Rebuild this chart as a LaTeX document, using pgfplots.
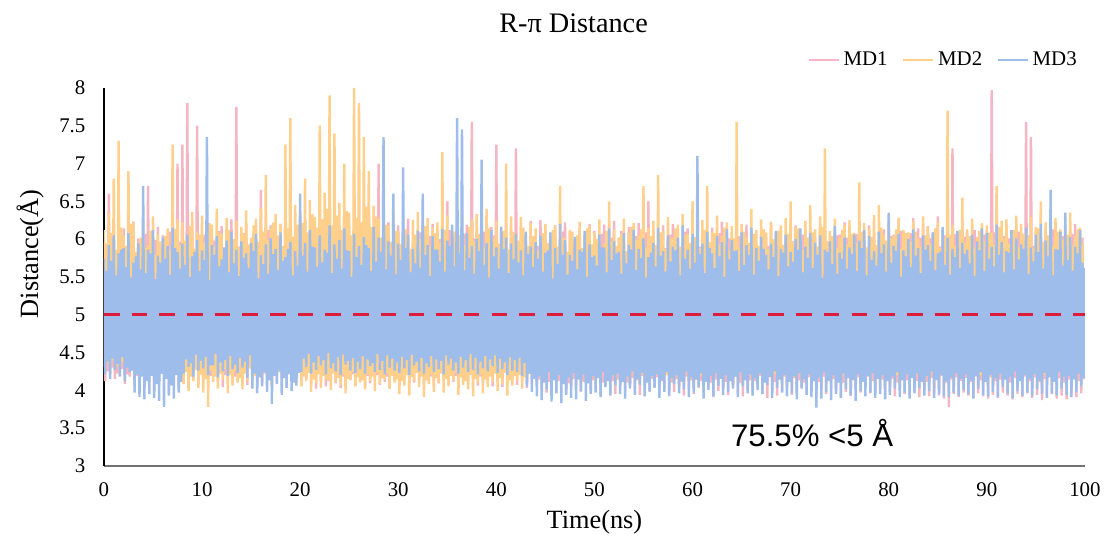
\documentclass[border=0pt]{standalone}
\usepackage{pgfplots}
\pgfplotsset{compat=1.18}
\usepackage{fontspec}
\setmainfont{Liberation Serif}
\newfontfamily\arialf{Liberation Sans}
\definecolor{mdone}{RGB}{245,182,196}
\definecolor{mdtwo}{RGB}{255,208,140}
\definecolor{mdthree}{RGB}{158,189,235}
\definecolor{refred}{RGB}{220,30,60}
\begin{document}
\begin{tikzpicture}
\begin{axis}[
  name=ax,
  scale only axis,
  width=503.1pt, height=193.8pt,
  xmin=0, xmax=100, ymin=3, ymax=8,
  axis x line*=bottom, axis y line*=left,
  x axis line style={-, draw=black!55, line width=0.8pt},
  y axis line style={-, draw=black, line width=0.8pt},
  major tick length=0pt,
  xtick={0,10,...,100},
  ytick={3,3.5,4,4.5,5,5.5,6,6.5,7,7.5,8},
  /pgf/number format/assume math mode=true,
  ticklabel style={font=\fontsize{10.7}{12}\selectfont},
  yticklabel style={xshift=-6pt},
  xticklabel style={yshift=-5pt},
  legend style={draw=none, fill=none, at={(1.002,1.074)}, anchor=east,
    font=\fontsize{10.7}{12}\selectfont, legend columns=3,
    /tikz/every even column/.append style={column sep=5.5pt}},
  legend image code/.code={\draw[#1, line width=1pt] (0pt,0pt) -- (15.4pt,0pt);},
  legend cell align=left,
  clip=true,
]
\addplot[mdone, line width=1.25pt, line join=bevel] table[row sep=\\, header=false, x expr=\coordindex*0.125, y index=0] {
5.95\\4.12\\5.82\\4.25\\6.60\\4.21\\5.97\\4.30\\6.08\\4.15\\5.76\\4.22\\5.87\\4.24\\6.04\\4.28\\
6.14\\4.08\\5.85\\4.21\\5.92\\4.18\\6.01\\4.27\\6.23\\4.05\\5.73\\4.19\\6.01\\4.13\\5.94\\4.24\\
5.88\\4.02\\6.07\\4.18\\6.70\\4.11\\5.80\\4.26\\5.97\\3.98\\5.99\\4.15\\6.16\\4.07\\5.78\\4.22\\
6.05\\4.15\\5.91\\4.27\\5.83\\3.96\\6.10\\4.17\\6.19\\4.09\\5.75\\4.23\\7.00\\4.04\\5.96\\4.20\\
7.25\\4.10\\5.88\\4.26\\7.80\\4.03\\6.03\\4.18\\6.12\\4.16\\5.79\\4.29\\7.50\\4.08\\5.93\\4.21\\
5.91\\4.13\\6.06\\4.24\\6.22\\4.06\\5.77\\4.19\\6.04\\4.19\\5.98\\4.28\\5.86\\4.10\\6.11\\4.22\\
6.17\\4.04\\5.84\\4.20\\5.95\\4.14\\6.02\\4.26\\6.26\\4.08\\5.74\\4.18\\7.75\\4.12\\5.90\\4.25\\
6.03\\4.18\\6.08\\4.23\\6.21\\4.07\\5.81\\4.29\\5.89\\4.15\\5.99\\4.21\\6.10\\4.02\\5.86\\4.17\\
6.65\\4.09\\5.95\\4.22\\6.00\\4.16\\6.12\\4.27\\6.18\\4.05\\5.78\\4.19\\5.93\\4.11\\6.01\\4.24\\
6.20\\4.14\\5.87\\4.20\\5.87\\4.03\\6.05\\4.28\\6.11\\4.12\\5.82\\4.17\\6.02\\4.17\\5.97\\4.25\\
6.09\\4.06\\6.00\\4.21\\6.24\\4.13\\5.86\\4.26\\5.98\\4.08\\6.09\\4.18\\6.15\\4.02\\5.80\\4.23\\
6.26\\4.11\\5.93\\4.24\\6.04\\4.05\\6.07\\4.19\\6.19\\4.15\\5.84\\4.27\\5.96\\4.09\\6.03\\4.22\\
6.12\\4.03\\5.89\\4.18\\6.28\\4.10\\6.10\\4.25\\6.07\\4.14\\5.77\\4.21\\6.21\\4.06\\5.95\\4.28\\
5.99\\4.12\\6.04\\4.23\\6.16\\4.04\\5.83\\4.19\\6.30\\4.09\\6.08\\4.26\\6.05\\4.15\\5.91\\4.20\\
7.00\\4.07\\5.97\\4.24\\6.13\\4.11\\6.11\\4.18\\6.22\\4.02\\5.85\\4.27\\6.08\\4.13\\6.02\\4.21\\
6.18\\4.05\\5.90\\4.22\\6.02\\4.14\\6.06\\4.28\\6.27\\4.08\\5.79\\4.19\\5.94\\4.10\\5.98\\4.25\\
6.11\\4.13\\6.09\\4.20\\6.25\\4.06\\5.87\\4.26\\6.03\\4.12\\6.04\\4.18\\6.20\\4.04\\5.81\\4.23\\
5.97\\4.09\\6.00\\4.27\\6.14\\4.15\\5.92\\4.21\\6.50\\4.07\\6.12\\4.24\\6.09\\4.11\\5.88\\4.19\\
6.23\\4.02\\5.96\\4.25\\6.06\\4.12\\6.07\\4.20\\6.19\\4.08\\5.84\\4.28\\7.55\\4.14\\6.01\\4.22\\
6.10\\4.06\\5.93\\4.18\\6.28\\4.10\\6.10\\4.26\\6.01\\4.13\\5.80\\4.21\\6.16\\4.05\\6.05\\4.24\\
7.25\\4.11\\5.89\\4.20\\6.08\\4.04\\6.02\\4.27\\6.21\\4.09\\5.86\\4.19\\6.13\\4.15\\6.09\\4.23\\
7.20\\4.07\\5.95\\4.25\\6.17\\4.12\\6.06\\4.18\\5.99\\4.03\\5.82\\4.22\\6.24\\4.08\\6.00\\4.16\\
6.05\\4.10\\5.91\\4.14\\6.25\\4.01\\6.08\\4.19\\6.12\\3.97\\5.78\\4.11\\5.94\\4.06\\6.03\\4.17\\
6.18\\3.99\\5.87\\4.12\\6.03\\4.08\\6.10\\4.20\\6.22\\3.95\\5.83\\4.09\\6.09\\4.04\\5.99\\4.15\\
5.92\\4.07\\6.05\\4.18\\6.15\\3.98\\5.80\\4.11\\6.06\\4.11\\6.01\\4.16\\6.20\\3.96\\5.89\\4.13\\
6.11\\4.02\\5.94\\4.19\\5.96\\3.93\\6.07\\4.10\\6.19\\4.05\\5.85\\4.17\\6.07\\3.97\\6.02\\4.12\\
6.24\\3.95\\5.90\\4.14\\6.02\\4.06\\6.11\\4.18\\5.91\\3.99\\5.77\\4.10\\6.16\\4.03\\5.97\\4.16\\
6.08\\4.01\\6.04\\4.13\\6.21\\3.94\\5.86\\4.19\\6.00\\4.07\\6.09\\4.11\\6.50\\3.98\\5.92\\4.15\\
6.13\\4.04\\5.81\\4.17\\5.95\\3.96\\6.03\\4.12\\6.18\\4.02\\5.88\\4.20\\6.05\\3.92\\6.06\\4.10\\
6.20\\3.98\\5.93\\4.15\\6.09\\4.05\\5.79\\4.11\\5.97\\3.93\\6.10\\4.18\\6.14\\4.01\\5.84\\4.13\\
6.02\\3.95\\6.00\\4.16\\6.17\\4.03\\5.90\\4.12\\6.08\\3.97\\6.05\\4.19\\5.93\\4.04\\5.82\\4.10\\
6.15\\3.91\\5.96\\4.14\\6.01\\3.99\\6.08\\4.17\\6.23\\4.02\\5.87\\4.11\\6.06\\3.94\\6.01\\4.15\\
5.98\\4.03\\5.89\\4.18\\6.12\\3.96\\6.04\\4.10\\6.04\\3.92\\5.80\\4.16\\6.19\\4.00\\5.95\\4.13\\
6.10\\3.97\\6.07\\4.12\\5.94\\4.04\\5.85\\4.19\\6.15\\3.95\\6.02\\4.14\\6.02\\3.90\\5.91\\4.17\\
6.21\\4.01\\5.83\\4.11\\6.07\\3.93\\6.09\\4.15\\6.13\\3.99\\5.88\\4.18\\5.96\\4.05\\6.00\\4.12\\
6.04\\3.94\\5.97\\4.16\\6.18\\3.98\\5.84\\4.13\\6.00\\4.03\\6.06\\4.10\\6.11\\3.96\\5.90\\4.17\\
6.16\\3.99\\6.03\\4.14\\6.03\\3.92\\5.86\\4.11\\6.20\\4.00\\6.08\\4.18\\6.08\\3.95\\5.81\\4.12\\
5.95\\4.02\\5.99\\4.15\\6.14\\3.96\\6.05\\4.19\\6.06\\3.91\\5.89\\4.10\\6.22\\3.98\\6.02\\4.16\\
6.09\\3.93\\5.82\\4.13\\6.01\\4.01\\6.07\\4.17\\6.17\\3.97\\5.94\\4.11\\6.04\\4.03\\5.87\\4.18\\
6.18\\3.96\\6.00\\4.12\\6.10\\3.94\\5.85\\4.16\\5.98\\4.02\\6.09\\4.14\\6.13\\3.90\\5.92\\4.19\\
6.22\\3.98\\6.04\\4.15\\6.06\\3.92\\5.88\\4.10\\6.25\\3.99\\6.11\\4.17\\6.11\\3.95\\5.96\\4.13\\
6.05\\3.94\\6.08\\4.18\\6.28\\3.97\\5.93\\4.12\\6.14\\3.91\\6.02\\4.15\\6.20\\4.00\\5.86\\4.11\\
6.17\\3.92\\6.01\\4.16\\6.09\\3.96\\6.10\\4.13\\6.30\\3.93\\5.90\\4.19\\6.12\\3.89\\6.05\\4.10\\
6.24\\3.78\\5.95\\4.14\\7.20\\3.95\\6.07\\4.17\\6.10\\3.91\\5.84\\4.12\\6.26\\3.97\\6.03\\4.16\\
6.08\\3.93\\5.98\\4.11\\6.19\\3.90\\6.12\\4.18\\6.03\\3.96\\5.87\\4.13\\6.15\\3.92\\6.06\\4.15\\
6.12\\3.89\\5.92\\4.17\\7.97\\3.94\\6.09\\4.12\\6.60\\3.90\\5.89\\4.14\\6.07\\3.97\\6.04\\4.19\\
6.20\\3.93\\6.01\\4.10\\6.04\\3.88\\5.86\\4.16\\6.16\\3.95\\6.10\\4.13\\6.09\\3.91\\5.94\\4.18\\
7.55\\3.96\\6.05\\4.12\\7.35\\3.90\\5.91\\4.17\\6.11\\3.94\\6.08\\4.11\\6.02\\3.87\\5.85\\4.15\\
6.14\\3.92\\6.00\\4.19\\6.06\\3.95\\6.13\\4.13\\6.18\\3.89\\5.88\\4.16\\6.10\\3.93\\6.04\\4.10\\
6.05\\3.88\\5.93\\4.14\\6.13\\3.94\\6.07\\4.18\\6.20\\3.91\\5.90\\4.12\\6.08\\3.96\\6.02\\4.15\\
4.20\\
};
\addlegendentry{MD1}
\addplot[mdtwo, line width=1.25pt, line join=bevel] table[row sep=\\, header=false, x expr=\coordindex*0.125, y index=0] {
6.12\\4.31\\5.94\\4.36\\6.35\\4.22\\6.08\\4.40\\6.80\\4.28\\5.86\\4.33\\7.30\\4.19\\6.15\\4.38\\
6.05\\4.26\\5.91\\4.42\\6.90\\4.33\\6.20\\4.29\\6.21\\4.17\\5.83\\4.37\\5.96\\4.24\\6.02\\4.31\\
6.18\\4.15\\5.88\\4.34\\5.92\\4.27\\6.11\\4.39\\6.30\\4.12\\5.79\\4.28\\6.07\\4.21\\5.97\\4.36\\
5.89\\4.29\\6.04\\4.41\\6.14\\4.18\\5.85\\4.32\\7.25\\4.23\\6.13\\4.37\\6.26\\4.14\\5.92\\4.30\\
6.22\\4.08\\5.98\\4.24\\5.98\\3.99\\6.17\\4.19\\6.36\\4.12\\5.87\\4.27\\6.10\\4.03\\6.06\\4.21\\
6.31\\3.97\\5.95\\4.15\\6.04\\3.78\\6.21\\4.26\\6.19\\4.11\\5.90\\4.18\\6.40\\4.02\\6.09\\4.23\\
6.07\\4.14\\5.84\\4.28\\6.28\\3.96\\6.12\\4.20\\5.95\\4.06\\6.00\\4.25\\6.24\\4.10\\5.89\\4.16\\
6.16\\4.01\\6.07\\4.22\\6.38\\4.13\\5.93\\4.29\\6.02\\4.08\\6.18\\4.19\\6.27\\4.19\\5.96\\4.26\\
6.41\\4.12\\6.10\\4.27\\6.85\\4.22\\5.99\\4.18\\6.15\\4.07\\6.22\\4.30\\6.33\\4.18\\6.05\\4.24\\
6.20\\4.24\\5.91\\4.21\\7.25\\4.10\\6.14\\4.28\\7.60\\4.16\\6.03\\4.20\\6.45\\4.09\\6.19\\4.25\\
6.38\\4.05\\6.21\\4.18\\6.80\\4.12\\6.09\\4.23\\6.52\\3.98\\6.33\\4.14\\6.29\\4.09\\6.15\\4.21\\
7.50\\4.03\\6.26\\4.19\\6.61\\4.14\\6.40\\4.12\\7.90\\4.00\\6.18\\4.22\\7.40\\4.11\\6.31\\4.16\\
6.48\\4.07\\6.12\\4.20\\7.00\\3.96\\6.37\\4.15\\6.35\\4.13\\6.05\\4.24\\8.00\\4.05\\6.28\\4.17\\
7.80\\4.10\\6.22\\4.13\\7.35\\4.01\\6.43\\4.21\\6.90\\4.12\\6.16\\4.18\\6.44\\3.99\\6.30\\4.23\\
6.27\\4.08\\6.02\\4.16\\6.56\\4.14\\6.19\\4.22\\6.18\\4.02\\5.96\\4.19\\6.39\\4.10\\6.11\\4.14\\
6.11\\3.95\\5.93\\4.12\\6.32\\4.06\\6.13\\4.20\\6.04\\3.93\\5.87\\4.17\\6.25\\4.12\\6.06\\4.23\\
6.36\\4.04\\6.00\\4.18\\6.09\\3.91\\6.17\\4.13\\6.28\\4.08\\5.90\\4.21\\6.15\\3.98\\6.08\\4.16\\
6.22\\4.10\\5.95\\4.22\\7.15\\3.97\\6.12\\4.15\\6.31\\4.05\\5.88\\4.19\\6.02\\4.13\\6.10\\4.24\\
6.19\\3.94\\6.05\\4.17\\6.37\\4.07\\5.92\\4.12\\6.08\\4.01\\6.16\\4.20\\6.26\\3.92\\5.97\\4.15\\
6.33\\4.09\\6.07\\4.21\\6.12\\3.96\\5.89\\4.14\\6.40\\4.04\\6.14\\4.18\\6.05\\4.11\\6.01\\4.22\\
6.24\\3.99\\5.94\\4.16\\6.16\\4.08\\6.11\\4.23\\7.00\\3.93\\5.86\\4.13\\6.30\\4.06\\6.09\\4.19\\
6.07\\4.13\\5.98\\4.20\\6.29\\4.02\\6.15\\4.17\\5.98\\4.10\\5.91\\4.24\\6.21\\4.15\\6.04\\4.22\\
6.14\\4.08\\5.85\\4.25\\5.93\\4.17\\6.08\\4.21\\6.20\\4.11\\5.95\\4.28\\6.03\\4.06\\6.12\\4.19\\
6.18\\4.14\\5.90\\4.23\\6.70\\4.09\\6.02\\4.27\\6.01\\4.19\\5.83\\4.20\\6.12\\4.07\\6.10\\4.26\\
5.96\\4.16\\6.05\\4.29\\6.23\\4.10\\5.88\\4.22\\6.06\\4.13\\6.14\\4.25\\6.17\\4.18\\5.93\\4.21\\
6.09\\4.11\\6.00\\4.24\\6.26\\4.15\\5.86\\4.28\\5.94\\4.08\\6.11\\4.20\\6.50\\4.16\\5.97\\4.26\\
6.13\\4.06\\5.91\\4.22\\6.02\\4.12\\6.07\\4.29\\6.27\\4.17\\5.84\\4.23\\6.08\\4.09\\6.16\\4.25\\
6.21\\4.14\\5.99\\4.27\\6.05\\4.10\\6.13\\4.21\\6.70\\4.07\\5.89\\4.24\\6.15\\4.13\\6.04\\4.28\\
6.24\\4.18\\5.92\\4.22\\6.85\\4.08\\6.09\\4.26\\6.11\\4.15\\5.87\\4.20\\6.29\\4.10\\6.01\\4.27\\
6.02\\4.12\\6.14\\4.24\\6.19\\4.05\\5.90\\4.21\\6.33\\4.16\\6.06\\4.28\\6.07\\4.11\\5.95\\4.23\\
6.50\\4.09\\6.03\\4.25\\6.14\\4.03\\5.88\\4.20\\6.25\\4.13\\6.12\\4.27\\6.70\\4.06\\5.96\\4.22\\
6.10\\4.15\\6.08\\4.29\\6.31\\4.08\\5.93\\4.23\\6.04\\4.02\\6.15\\4.26\\6.22\\4.12\\5.85\\4.21\\
6.17\\4.04\\6.01\\4.24\\7.55\\4.11\\5.89\\4.28\\6.20\\4.07\\6.10\\4.22\\6.03\\4.14\\5.94\\4.25\\
6.40\\4.08\\6.06\\4.27\\6.12\\4.16\\5.91\\4.21\\6.26\\4.03\\6.13\\4.24\\6.09\\4.10\\5.87\\4.29\\
6.23\\4.12\\6.00\\4.22\\5.99\\4.06\\6.11\\4.26\\6.18\\4.15\\5.92\\4.20\\6.28\\4.05\\6.07\\4.25\\
6.50\\4.09\\5.95\\4.23\\6.16\\4.13\\6.14\\4.28\\6.07\\4.04\\5.86\\4.21\\6.24\\4.11\\6.02\\4.26\\
6.45\\4.07\\6.09\\4.24\\6.13\\4.15\\5.90\\4.20\\6.30\\4.02\\6.16\\4.27\\7.20\\4.10\\5.97\\4.22\\
6.11\\4.14\\6.04\\4.25\\6.27\\4.06\\5.88\\4.29\\6.02\\4.12\\6.12\\4.21\\6.19\\4.08\\5.93\\4.24\\
6.25\\4.03\\6.07\\4.26\\6.08\\4.11\\5.94\\4.22\\6.75\\4.05\\6.10\\4.27\\6.21\\4.13\\5.89\\4.20\\
6.14\\4.09\\6.03\\4.23\\6.32\\4.04\\5.92\\4.28\\6.45\\4.12\\6.15\\4.21\\6.06\\4.07\\5.98\\4.25\\
6.20\\4.11\\6.01\\4.24\\6.04\\4.06\\6.13\\4.20\\6.28\\4.13\\5.87\\4.27\\6.12\\4.02\\6.08\\4.22\\
6.09\\4.08\\5.96\\4.26\\6.24\\4.14\\6.10\\4.21\\6.01\\4.05\\5.90\\4.28\\6.30\\4.10\\6.05\\4.23\\
6.16\\4.12\\5.93\\4.25\\6.07\\4.03\\6.14\\4.20\\6.22\\4.09\\5.88\\4.24\\6.11\\4.13\\6.02\\4.27\\
7.70\\4.06\\6.06\\4.22\\6.19\\4.11\\5.91\\4.26\\6.05\\4.04\\6.12\\4.21\\6.55\\4.09\\5.95\\4.28\\
6.13\\4.10\\6.04\\4.23\\6.27\\4.07\\5.89\\4.25\\6.02\\4.14\\6.11\\4.20\\6.21\\4.05\\5.97\\4.26\\
6.18\\4.12\\6.08\\4.24\\6.09\\4.06\\5.93\\4.21\\6.70\\4.11\\6.16\\4.27\\6.24\\4.08\\6.00\\4.22\\
6.26\\4.15\\5.94\\4.25\\6.11\\4.04\\6.12\\4.28\\6.31\\4.09\\5.90\\4.20\\6.20\\4.13\\6.07\\4.24\\
6.07\\4.08\\6.03\\4.26\\6.29\\4.12\\5.88\\4.22\\6.16\\4.05\\6.14\\4.27\\6.50\\4.10\\5.96\\4.21\\
6.22\\4.14\\6.05\\4.23\\6.05\\4.07\\5.92\\4.28\\6.28\\4.11\\6.10\\4.24\\6.13\\4.06\\5.99\\4.20\\
6.19\\4.09\\6.06\\4.25\\6.35\\4.13\\5.91\\4.22\\6.04\\4.08\\6.13\\4.27\\6.15\\4.12\\5.95\\4.23\\
4.25\\
};
\addlegendentry{MD2}
\addplot[mdthree, line width=1.25pt, line join=bevel] table[row sep=\\, header=false, x expr=\coordindex*0.125, y index=0] {
5.74\\4.21\\5.58\\4.38\\5.92\\4.15\\5.71\\4.42\\6.05\\4.27\\5.52\\4.35\\5.81\\4.18\\5.86\\4.44\\
5.88\\4.12\\5.63\\4.30\\6.08\\4.24\\5.49\\4.26\\5.69\\3.97\\5.77\\4.21\\5.95\\3.91\\5.60\\4.18\\
6.70\\3.88\\5.55\\4.12\\5.86\\3.95\\5.81\\4.19\\6.12\\3.90\\5.47\\4.08\\5.78\\3.86\\5.69\\4.22\\
6.02\\3.78\\5.74\\4.15\\5.91\\3.93\\5.53\\4.06\\6.15\\3.89\\5.88\\4.20\\5.83\\3.97\\5.61\\4.11\\
5.94\\4.22\\5.66\\4.41\\6.06\\4.31\\5.50\\4.36\\5.77\\4.18\\5.83\\4.47\\5.99\\4.26\\5.58\\4.39\\
5.85\\4.29\\5.72\\4.44\\7.35\\4.20\\5.46\\4.33\\5.92\\4.33\\5.79\\4.48\\6.04\\4.17\\5.64\\4.37\\
5.73\\4.25\\5.89\\4.40\\5.98\\4.19\\5.56\\4.45\\6.10\\4.28\\5.68\\4.34\\5.86\\4.23\\5.51\\4.43\\
5.97\\4.30\\5.75\\4.38\\5.81\\4.16\\5.62\\4.46\\5.95\\4.02\\5.84\\4.22\\6.07\\3.96\\5.48\\4.17\\
5.79\\4.05\\5.67\\4.24\\5.93\\3.98\\5.54\\4.13\\6.01\\3.82\\5.80\\4.19\\5.87\\4.08\\5.59\\4.25\\
6.09\\3.94\\5.71\\4.16\\5.76\\4.03\\5.87\\4.21\\5.96\\3.99\\5.52\\4.10\\5.84\\4.06\\5.65\\4.23\\
6.60\\4.24\\5.78\\4.42\\5.95\\4.31\\5.57\\4.48\\6.12\\4.22\\5.90\\4.37\\5.89\\4.27\\5.63\\4.45\\
6.05\\4.33\\5.69\\4.40\\5.86\\4.21\\5.82\\4.49\\6.18\\4.29\\5.55\\4.36\\5.93\\4.25\\5.74\\4.44\\
5.99\\4.20\\5.61\\4.47\\6.14\\4.34\\5.85\\4.39\\5.84\\4.26\\5.50\\4.43\\6.07\\4.23\\5.76\\4.38\\
5.91\\4.28\\5.66\\4.45\\6.03\\4.22\\5.92\\4.41\\5.88\\4.32\\5.58\\4.36\\6.16\\4.24\\5.70\\4.48\\
6.02\\4.27\\5.83\\4.39\\7.35\\4.21\\5.60\\4.46\\5.97\\4.30\\5.78\\4.42\\6.60\\4.26\\5.53\\4.37\\
5.94\\4.23\\5.72\\4.44\\6.95\\4.29\\5.88\\4.40\\6.06\\4.20\\5.56\\4.47\\5.87\\4.33\\5.68\\4.38\\
6.11\\4.25\\5.62\\4.43\\6.60\\4.22\\5.79\\4.36\\5.92\\4.31\\5.51\\4.45\\6.04\\4.24\\5.86\\4.41\\
5.86\\4.28\\5.70\\4.39\\6.13\\4.21\\5.57\\4.46\\5.98\\4.34\\5.91\\4.42\\6.19\\4.26\\5.64\\4.37\\
7.60\\4.22\\5.81\\4.44\\7.45\\4.30\\5.59\\4.40\\6.08\\4.24\\5.75\\4.48\\5.91\\4.27\\5.54\\4.43\\
6.00\\4.21\\5.84\\4.38\\7.05\\4.29\\5.66\\4.45\\5.95\\4.25\\5.49\\4.41\\6.12\\4.32\\5.77\\4.46\\
5.89\\4.23\\5.61\\4.42\\6.16\\4.28\\5.87\\4.37\\6.02\\4.20\\5.55\\4.44\\5.94\\4.26\\5.73\\4.40\\
6.07\\4.24\\5.69\\4.43\\5.85\\4.19\\5.52\\4.36\\6.10\\4.05\\5.80\\4.22\\5.90\\3.98\\5.63\\4.15\\
5.96\\3.92\\5.74\\4.18\\6.05\\3.87\\5.57\\4.10\\5.82\\4.01\\5.85\\4.24\\6.09\\3.85\\5.48\\4.13\\
5.88\\3.96\\5.67\\4.20\\6.20\\3.83\\5.79\\4.08\\5.99\\3.94\\5.53\\4.17\\5.79\\3.90\\5.71\\4.23\\
6.03\\3.88\\5.60\\4.14\\5.86\\3.99\\5.83\\4.21\\6.11\\3.86\\5.50\\4.09\\5.93\\3.95\\5.76\\4.19\\
5.78\\3.97\\5.65\\4.16\\6.06\\3.91\\5.89\\4.24\\5.89\\4.04\\5.56\\4.12\\6.14\\3.93\\5.72\\4.20\\
5.97\\4.06\\5.81\\4.22\\5.83\\3.95\\5.54\\4.11\\6.08\\3.89\\5.68\\4.18\\5.92\\4.02\\5.86\\4.25\\
6.12\\3.94\\5.59\\4.15\\5.87\\4.07\\5.75\\4.23\\6.01\\3.92\\5.49\\4.10\\5.76\\3.99\\5.82\\4.19\\
5.95\\4.03\\5.64\\4.21\\6.15\\3.90\\5.78\\4.13\\5.84\\3.98\\5.57\\4.24\\6.05\\3.93\\5.70\\4.16\\
5.90\\4.08\\5.85\\4.20\\6.02\\3.96\\5.52\\4.12\\6.18\\4.01\\5.74\\4.25\\5.86\\3.91\\5.61\\4.17\\
6.07\\3.97\\5.69\\4.14\\7.10\\4.04\\5.80\\4.22\\5.94\\3.89\\5.55\\4.11\\6.10\\4.00\\5.88\\4.19\\
5.81\\3.92\\5.62\\4.23\\6.04\\4.06\\5.77\\4.15\\5.96\\3.94\\5.50\\4.20\\6.13\\3.98\\5.73\\4.12\\
5.99\\4.02\\5.84\\4.18\\5.85\\3.91\\5.58\\4.24\\6.09\\4.05\\5.66\\4.13\\5.92\\3.96\\5.79\\4.21\\
6.15\\3.93\\5.53\\4.16\\5.88\\4.00\\5.71\\4.22\\6.03\\3.95\\5.87\\4.10\\5.79\\4.07\\5.60\\4.18\\
5.94\\3.90\\5.76\\4.25\\6.11\\4.03\\5.51\\4.14\\5.87\\3.97\\5.82\\4.20\\6.06\\3.92\\5.64\\4.11\\
5.83\\3.96\\5.70\\4.19\\6.00\\3.88\\5.86\\4.23\\6.14\\4.02\\5.56\\4.15\\5.90\\3.94\\5.75\\4.21\\
6.08\\3.91\\5.62\\4.12\\5.95\\3.77\\5.79\\4.17\\6.05\\3.89\\5.49\\4.24\\5.86\\3.98\\5.83\\4.13\\
5.97\\3.87\\5.67\\4.20\\6.17\\3.95\\5.54\\4.10\\5.82\\3.90\\5.74\\4.22\\6.02\\4.01\\5.61\\4.16\\
5.89\\3.93\\5.80\\4.14\\6.06\\3.86\\5.58\\4.21\\5.98\\3.99\\5.88\\4.11\\6.12\\3.92\\5.52\\4.19\\
6.04\\3.97\\5.72\\4.23\\5.84\\3.90\\5.65\\4.15\\6.10\\3.95\\5.81\\4.20\\5.93\\3.88\\5.57\\4.12\\
6.35\\3.94\\5.69\\4.18\\5.91\\4.02\\5.84\\4.24\\6.07\\3.91\\5.50\\4.13\\5.85\\3.97\\5.77\\4.21\\
6.00\\3.89\\5.63\\4.16\\6.13\\3.96\\5.78\\4.22\\5.88\\4.03\\5.55\\4.11\\6.05\\3.93\\5.86\\4.19\\
5.92\\3.99\\5.71\\4.25\\6.09\\3.90\\5.59\\4.14\\5.81\\3.95\\5.83\\4.20\\6.16\\3.92\\5.66\\4.12\\
6.02\\3.91\\5.53\\4.17\\5.87\\3.97\\5.76\\4.23\\6.11\\3.93\\5.62\\4.15\\5.95\\4.00\\5.80\\4.21\\
5.86\\3.95\\5.68\\4.13\\6.06\\3.89\\5.51\\4.19\\5.97\\4.02\\5.85\\4.24\\6.14\\3.94\\5.58\\4.11\\
6.08\\3.92\\5.74\\4.20\\5.90\\3.98\\5.64\\4.16\\6.19\\3.91\\5.79\\4.22\\5.96\\4.04\\5.56\\4.14\\
5.84\\3.96\\5.82\\4.18\\6.12\\3.90\\5.60\\4.25\\6.01\\3.99\\5.73\\4.12\\5.93\\3.93\\5.87\\4.20\\
6.15\\3.97\\5.54\\4.15\\5.89\\3.92\\5.70\\4.21\\6.06\\4.01\\5.83\\4.13\\6.20\\3.95\\5.61\\4.23\\
5.98\\3.90\\5.77\\4.17\\6.65\\3.96\\5.52\\4.11\\5.87\\3.93\\5.86\\4.24\\6.10\\4.02\\5.65\\4.18\\
6.35\\3.94\\5.72\\4.19\\6.03\\3.91\\5.58\\4.14\\5.90\\3.98\\5.81\\4.22\\6.12\\4.05\\5.69\\4.16\\
5.62\\
};
\addlegendentry{MD3}
\addplot[refred, line width=1.5pt, dash pattern=on 8pt off 6.2pt, forget plot] coordinates {(0,5) (100,5)};
\node[font=\arialf\fontsize{16}{18}\selectfont, anchor=center] at (axis cs:72.2,3.44) {75.5\% <5 Å};
\end{axis}
\node[font=\fontsize{14.5}{16}\selectfont, anchor=base] at ([shift={(-10.7pt,28.2pt)}]ax.north) {R-π Distance};
\node[font=\fontsize{13.5}{16}\selectfont, anchor=center] at ([yshift=-28.7pt]ax.south) {Time(ns)};
\node[font=\fontsize{13.5}{16}\selectfont, rotate=90, anchor=center] at ([shift={(-37.9pt,11.8pt)}]ax.west) {Distance(Å)};
\pgfresetboundingbox
\path ([shift={(-53.3pt,-37.4pt)}]ax.south west) rectangle ([shift={(10.3pt,45.1pt)}]ax.north east);
\end{tikzpicture}
\end{document}
